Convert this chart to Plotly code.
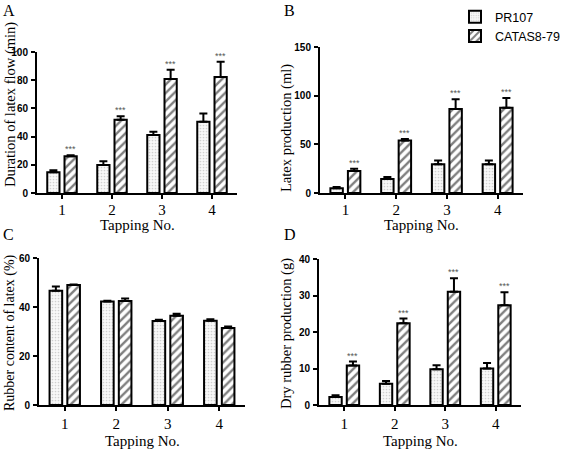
import plotly.graph_objects as go

W, H = 567, 450

categories = [1, 2, 3, 4]
tick_labels = ["1", "2", "3", "4"]
series_names = ["PR107", "CATAS8-79"]
x_title = "Tapping No."

# Panel A: Duration of latex flow (min)
a_pr = [14.7, 19.9, 41.1, 50.6]
a_pr_err = [1.5, 2.7, 2.3, 5.7]
a_ca = [26.0, 52.0, 80.9, 82.3]
a_ca_err = [0.8, 2.5, 6.6, 10.8]

# Panel B: Latex production (ml)
b_pr = [5.0, 14.4, 29.6, 29.6]
b_pr_err = [1.1, 2.0, 3.8, 3.8]
b_ca = [22.7, 54.0, 86.3, 87.7]
b_ca_err = [2.3, 1.5, 10.0, 10.0]

# Panel C: Rubber content of latex (%)
c_pr = [46.6, 42.2, 34.3, 34.4]
c_pr_err = [1.8, 0.4, 0.5, 0.6]
c_ca = [49.0, 42.4, 36.4, 31.4]
c_ca_err = [0.2, 1.1, 0.8, 0.6]

# Panel D: Dry rubber production (g)
d_pr = [2.2, 5.8, 9.8, 10.0]
d_pr_err = [0.5, 0.8, 1.1, 1.5]
d_ca = [10.8, 22.4, 31.0, 27.3]
d_ca_err = [1.1, 1.3, 3.7, 3.6]

sig = ["***", "***", "***", "***"]

panels = [
    dict(letter="A", pr=a_pr, pre=a_pr_err, ca=a_ca, cae=a_ca_err, ymax=100, dt=20,
         title="Duration of latex flow (min)", tfs=14.5, sig=True,
         xd=(37, 237), yd=(52, 193), tx=10, ty=105, lx=1, ly=10, xty=225, tso=-2),
    dict(letter="B", pr=b_pr, pre=b_pr_err, ca=b_ca, cae=b_ca_err, ymax=150, dt=50,
         title="Latex production (ml)", tfs=14.5, sig=True,
         xd=(320, 523), yd=(47, 193), tx=286, ty=128, lx=282, ly=10, xty=225, tso=-2),
    dict(letter="C", pr=c_pr, pre=c_pr_err, ca=c_ca, cae=c_ca_err, ymax=60, dt=20,
         title="Rubber content of latex (%)", tfs=14, sig=False,
         xd=(39, 245), yd=(258, 405), tx=10, ty=333, lx=1, ly=234, xty=441, tso=0),
    dict(letter="D", pr=d_pr, pre=d_pr_err, ca=d_ca, cae=d_ca_err, ymax=40, dt=10,
         title="Dry rubber production (g)", tfs=14.5, sig=True,
         xd=(319, 521), yd=(259, 405), tx=286, ty=334, lx=282, ly=234, xty=441, tso=0),
]

serif = "Liberation Serif"
sans = "Liberation Sans"

fig = go.Figure()
annotations = []
bw = 0.245
off_pr = -0.295
off_ca = 0.05

for i, p in enumerate(panels):
    n = "" if i == 0 else str(i + 1)
    xa, ya = "x" + n, "y" + n
    first = i == 0
    fig.add_trace(go.Bar(
        x=categories, y=p["pr"], name=series_names[0], xaxis=xa, yaxis=ya,
        width=bw, offset=off_pr, showlegend=first, legendgroup="pr",
        marker=dict(color="#f7f7f7", line=dict(color="black", width=2),
                    pattern=dict(shape=".", fgcolor="#a8a8a8", bgcolor="#f8f8f8",
                                 size=3, solidity=0.25)),
        error_y=dict(type="data", symmetric=False, array=p["pre"],
                     arrayminus=[0] * 4, color="black", thickness=2, width=4),
    ))
    fig.add_trace(go.Bar(
        x=categories, y=p["ca"], name=series_names[1], xaxis=xa, yaxis=ya,
        width=bw, offset=off_ca, showlegend=first, legendgroup="ca",
        marker=dict(color="white", line=dict(color="black", width=2),
                    pattern=dict(shape="/", fgcolor="black", bgcolor="white",
                                 size=6, solidity=0.4)),
        error_y=dict(type="data", symmetric=False, array=p["cae"],
                     arrayminus=[0] * 4, color="black", thickness=2, width=4),
    ))
    x0, x1 = p["xd"]
    yt, yb = p["yd"]
    fig.layout["xaxis" + n] = dict(
        domain=[x0 / W, x1 / W], range=[0.5, 4.5], anchor=ya,
        tickvals=categories, ticktext=tick_labels, ticks="outside", ticklen=4,
        tickwidth=2, tickcolor="black", showline=True, linewidth=2, linecolor="black",
        showgrid=False, zeroline=False, fixedrange=True, automargin=False,
        tickfont=dict(family=serif, size=15, color="black"),
        ticklabelstandoff=p["tso"],
    )
    fig.layout["yaxis" + n] = dict(
        domain=[1 - yb / H, 1 - yt / H], range=[0, p["ymax"]], anchor=xa,
        dtick=p["dt"], ticks="outside", ticklen=4, tickwidth=2, tickcolor="black",
        showline=True, linewidth=2, linecolor="black", showgrid=False, zeroline=False,
        tickfont=dict(family=sans, size=10, color="black", weight="bold"),
        ticklabelstandoff=1, automargin=False, fixedrange=True,
    )
    annotations.append(dict(text=p["title"], x=p["tx"] / W, y=1 - p["ty"] / H,
                            xref="paper", yref="paper", showarrow=False, textangle=-90,
                            font=dict(family=serif, size=p["tfs"], color="black"),
                            xanchor="center", yanchor="middle"))
    annotations.append(dict(text=p["letter"], x=p["lx"] / W, y=1 - p["ly"] / H,
                            xref="paper", yref="paper", showarrow=False,
                            font=dict(family=serif, size=16, color="black"),
                            xanchor="left", yanchor="middle"))
    annotations.append(dict(text=x_title, x=(x0 + x1) / 2 / W, y=1 - p["xty"] / H,
                            xref="paper", yref="paper", showarrow=False,
                            font=dict(family=serif, size=15, color="black"),
                            xanchor="center", yanchor="middle"))
    if p["sig"]:
        for c, v, e, s in zip(categories, p["ca"], p["cae"], sig):
            annotations.append(dict(text=s, x=c + off_ca + bw / 2, y=v + e,
                                    xref=xa, yref=ya, showarrow=False, yanchor="bottom",
                                    yshift=-1,
                                    font=dict(family=sans, size=9, color="#555555")))

fig.update_layout(
    width=W, height=H, autosize=False, margin=dict(l=0, r=0, t=0, b=0, autoexpand=False),
    paper_bgcolor="white", plot_bgcolor="white",
    barmode="overlay",
    annotations=annotations,
    legend=dict(x=455 / W, y=1 - 2 / H, xanchor="left", yanchor="top",
                font=dict(family=sans, size=12.5, color="black"),
                bgcolor="rgba(0,0,0,0)", itemwidth=30, tracegroupgap=0),
    showlegend=True,
)

fig.write_html("out.html", config={"displayModeBar": False},
               post_script="document.body.style.margin='0';document.body.style.padding='0';")
